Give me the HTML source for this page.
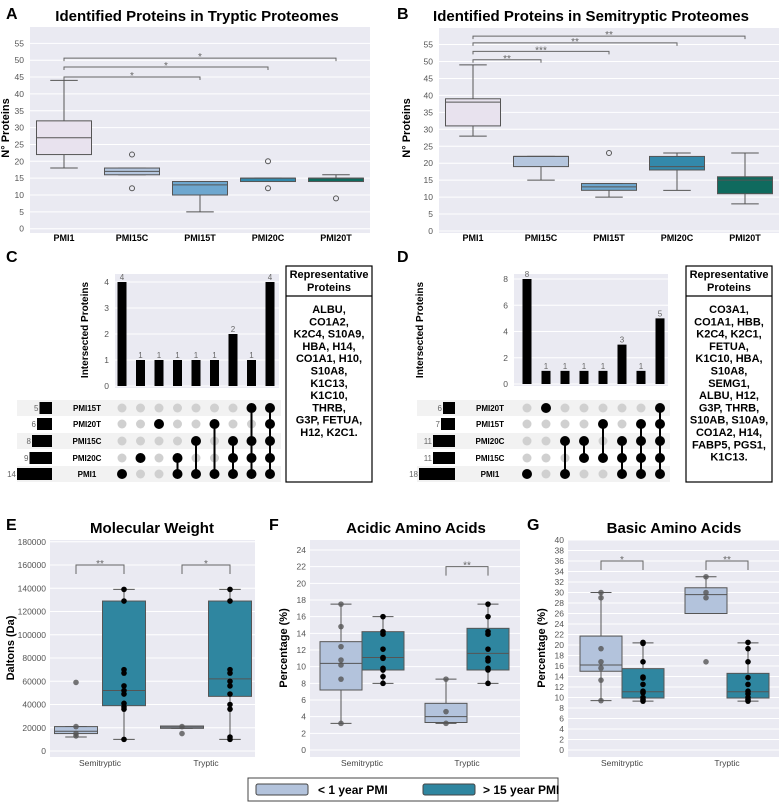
<!DOCTYPE html>
<html><head><meta charset="utf-8"><style>
body{margin:0;background:#fff}
svg{display:block;font-family:"Liberation Sans",Arial,sans-serif}
.t{font-size:8.5px;fill:#555}
</style></head><body>
<svg id="fig" width="782" height="802" viewBox="0 0 782 802" xmlns="http://www.w3.org/2000/svg"></svg>
<script>
// ---------- DATA ----------
const catsAB = ["PMI1","PMI15C","PMI15T","PMI20C","PMI20T"];
const boxesA = [[18,22,27,32,44],[16,16,17,18,18],[5,10,13,14,14],[14,14,15,15,15],[14,14,15,15,16]];
const outliersA = [[],[22,12],[],[20,12],[9]];
const boxesB = [[28,31,38,39,49],[15,19,22,22,22],[10,12,13,14,14],[12,18,19,22,23],[8,11,15,16,23]];
const outliersB = [[],[],[23],[],[]];
const colorsAB = ["#e8e2ee","#b5c6de","#6ea7cf","#3389ab","#0f6a5e"];
const bracketsA = [[2,45,"*"],[3,48,"*"],[4,50.6,"*"]];
const bracketsB = [[1,50.5,"**"],[2,53,"***"],[3,55.5,"**"],[4,57.5,"**"]];
const ticksAB = [0,5,10,15,20,25,30,35,40,45,50,55];

const rowsC = ["PMI15T","PMI20T","PMI15C","PMI20C","PMI1"];
const setSizesC = [5,6,8,9,14];
const barsC = [4,1,1,1,1,1,2,1,4];
const matC = [[4],[3],[1],[3,4],[2,4],[1,4],[2,3,4],[0,2,3,4],[0,1,2,3,4]];
const rowsD = ["PMI20T","PMI15T","PMI20C","PMI15C","PMI1"];
const setSizesD = [6,7,11,11,18];
const barsD = [8,1,1,1,1,3,1,5];
const matD = [[4],[0],[2,4],[2,3],[1,3],[2,3,4],[1,2,3,4],[0,1,2,3,4]];
const protC = ["ALBU,","CO1A2,","K2C4, S10A9,","HBA, H14,","CO1A1, H10,","S10A8,","K1C13,","K1C10,","THRB,","G3P, FETUA,","H12, K2C1."];
const protD = ["CO3A1,","CO1A1, HBB,","K2C4, K2C1,","FETUA,","K1C10, HBA,","S10A8,","SEMG1,","ALBU, H12,","G3P, THRB,","S10AB, S10A9,","CO1A2, H14,","FABP5, PGS1,","K1C13."];

const groupsEFG = ["Semitryptic","Tryptic"];
const boxE = [[12000,15000,17000,21000,21000],[10000,39000,52000,129000,139000],[19500,19500,20500,21500,21500],[10000,47000,62000,129000,139000]];
const ptsE = [[59000,21000,15000,13000],[139000,129000,70000,67000,56000,52000,49000,41000,38000,36000,10000],[21000,15000],[139000,129000,70000,67000,60000,56000,49000,40000,36000,12000,10000]];
const boxF = [[3.2,7.2,10.4,13,17.5],[8,9.6,11.1,14.2,16],[3.2,3.3,4,5.6,8.5],[8,9.6,11.6,14.6,17.5]];
const ptsF = [[17.5,14.8,12.4,10.8,10.2,8.5,3.2],[16,14.2,13.9,12.1,11.1,11,9.8,9.6,8.8,8],[8.5,4.6,3.2],[17.5,16,14.2,13.9,12.1,11,10.7,9.8,9.6,8]];
const boxG = [[9.4,15,16.2,21.7,30],[9.3,9.9,11.1,15.5,20.4],[26,26,29.6,30.9,33],[9.3,9.9,11.1,14.6,20.4]];
const ptsG = [[30,29,19.3,16.8,15.6,13.3,9.4],[20.5,20.3,16.8,13.9,13.7,12.5,11.2,10.9,10,9.6,9.3],[33,30,29,16.8],[20.5,19.3,16.8,13.8,12.5,11.2,10.7,10,9.6,9.3]];
const ticksE = [0,20000,40000,60000,80000,100000,120000,140000,160000,180000];
const ticksF = [0,2,4,6,8,10,12,14,16,18,20,22,24];
const ticksG = [0,2,4,6,8,10,12,14,16,18,20,22,24,26,28,30,32,34,36,38,40];
const sigE = ["**","*"], sigEv=[160000,160000];
const sigF = ["","**"], sigFv=[0,22];
const sigG = ["*","**"], sigGv=[36,36];

// ---------- HELPERS ----------
const NS="http://www.w3.org/2000/svg";
const svg=document.getElementById('fig');
function mk(tag,at,parent){const e=document.createElementNS(NS,tag);for(const k in at)e.setAttribute(k,at[k]);(parent||svg).appendChild(e);return e;}
function txt(s,x,y,at,parent){const e=mk('text',Object.assign({x:x,y:y},at),parent);e.textContent=s;return e;}
function grp(name){const g=mk('g',{});return g;}
const lin=(v0,p0,v1,p1)=>v=>p0+(v-v0)*(p1-p0)/(v1-v0);

function panelFrame(g,x0,y0,x1,y1,ticks,sy,labX,fmt,fs){
  mk('rect',{x:x0,y:y0,width:x1-x0,height:y1-y0,fill:'#eaeaf2'},g);
  ticks.forEach(t=>{mk('line',{x1:x0,x2:x1,y1:sy(t),y2:sy(t),stroke:'#fff','stroke-width':1},g);
    const l=txt(fmt?fmt(t):t,labX,sy(t)+3,{'text-anchor':'end',class:'t','font-size':fs||8.5},g);
    });
}
function drawBox(g,cx,w,s,sy,fill,stroke){
  mk('line',{x1:cx,x2:cx,y1:sy(s[0]),y2:sy(s[1]),stroke:stroke,'stroke-width':1},g);
  mk('line',{x1:cx,x2:cx,y1:sy(s[3]),y2:sy(s[4]),stroke:stroke,'stroke-width':1},g);
  mk('line',{x1:cx-w/4,x2:cx+w/4,y1:sy(s[0]),y2:sy(s[0]),stroke:stroke,'stroke-width':1},g);
  mk('line',{x1:cx-w/4,x2:cx+w/4,y1:sy(s[4]),y2:sy(s[4]),stroke:stroke,'stroke-width':1},g);
  const r=mk('rect',{x:cx-w/2,y:sy(s[3]),width:w,height:Math.max(1,sy(s[1])-sy(s[3])),fill:fill,stroke:stroke,'stroke-width':1},g);
  
  mk('line',{x1:cx-w/2,x2:cx+w/2,y1:sy(s[2]),y2:sy(s[2]),stroke:stroke,'stroke-width':1},g);
}
function bracket(g,xa,xb,yv,drop,lab){
  mk('path',{d:`M${xa},${yv+drop}V${yv}H${xb}V${yv+drop}`,fill:'none',stroke:'#666','stroke-width':1},g);
  txt(lab,(xa+xb)/2,yv+2,{'text-anchor':'middle','font-size':10,fill:'#666'},g);
}

// ---------- A & B ----------
function panelAB(name,letter,lx,title,tx,x0,x1,sy,boxes,outs,brs,ylabx,yTop){
  const g=grp(name);
  txt(letter,lx,19,{'font-size':16,'font-weight':'bold'},g);
  txt(title,tx,21,{'font-size':15,'font-weight':'bold','text-anchor':'middle'},g);
  panelFrame(g,x0,yTop,x1,233,ticksAB,sy,x0-6);
  const step=(x1-x0)/5;
  const cx=i=>x0+step*(i+0.5);
  boxes.forEach((s,i)=>{drawBox(g,cx(i),55,s,sy,colorsAB[i],'#555');
    outs[i].forEach(o=>{const c=mk('circle',{cx:cx(i),cy:sy(o),r:2.5,fill:'none',stroke:'#555'},g);});
    const l=txt(catsAB[i],cx(i),241,{'text-anchor':'middle','font-size':9,'font-weight':'bold'},g);
    });
  brs.forEach(b=>bracket(g,cx(0),cx(b[0]),sy(b[1]),3,b[2]));
  const yl=txt('N° Proteins',0,0,{'font-size':11,'font-weight':'bold','text-anchor':'middle',transform:`translate(${ylabx},128) rotate(-90)`},g);
  
}
panelAB('panel-a','A',6,'Identified Proteins in Tryptic Proteomes',197,30,370,lin(0,228.7,50,60.2),boxesA,outliersA,bracketsA,9,27);
panelAB('panel-b','B',397,'Identified Proteins in Semitryptic Proteomes',591,439,779,lin(0,231,50,61.5),boxesB,outliersB,bracketsB,410,28);

// ---------- C & D (upset) ----------
function panelUp(name,letter,lx,x0,x1,bx0,bstep,sy,ticks,bars,rows,sizes,mat,setUnit,setRight,rowLabX,stripeX0,ylabx,box0,box1,prot){
  const g=grp(name);
  txt(letter,lx,262,{'font-size':16,'font-weight':'bold'},g);
  panelFrame(g,x0,274,x1,sy(0)+2,ticks,sy,x0-6);
  bars.forEach((v,i)=>{const x=bx0+i*bstep;
    const r=mk('rect',{x:x-4.5,y:sy(v),width:9,height:sy(0)-sy(v),fill:'#000'},g);
    
    txt(v,x,sy(v)-2,{'text-anchor':'middle','font-size':8,fill:'#666'},g);});
  const yl=txt('Intersected Proteins',0,0,{'font-size':10,'font-weight':'bold','text-anchor':'middle',transform:`translate(${ylabx},330) rotate(-90)`},g);
  
  const ry=[408,424,441,458,474];
  rows.forEach((r,j)=>{
    if(j%2==0)mk('rect',{x:stripeX0,y:ry[j]-8,width:x1-stripeX0+2,height:16,fill:'#f2f2f2'},g);
    const sb=mk('rect',{x:setRight-sizes[j]*setUnit,y:ry[j]-6,width:sizes[j]*setUnit,height:12,fill:'#000'},g);
    
    txt(sizes[j],setRight-sizes[j]*setUnit-1,ry[j]+3,{'text-anchor':'end','font-size':8,fill:'#666'},g);
    const rl=txt(r,rowLabX,ry[j]+3,{'text-anchor':'middle','font-size':8,'font-weight':'bold'},g);
    });
  mat.forEach((m,i)=>{const x=bx0+i*bstep;
    rows.forEach((r,j)=>mk('circle',{cx:x,cy:ry[j],r:m.includes(j)?5:4.5,fill:m.includes(j)?'#000':'#d0d0d0'},g));
    if(m.length>1)mk('line',{x1:x,x2:x,y1:ry[Math.min(...m)],y2:ry[Math.max(...m)],stroke:'#000','stroke-width':2},g);});
  const tb=grp(name+'-protein-table');
  mk('rect',{x:box0,y:266,width:box1-box0,height:216,fill:'#fff',stroke:'#000','stroke-width':1.2},tb);
  mk('line',{x1:box0,x2:box1,y1:296,y2:296,stroke:'#000','stroke-width':1.2},tb);
  const cx=(box0+box1)/2;
  txt('Representative',cx,278,{'text-anchor':'middle','font-size':11,'font-weight':'bold'},tb);
  txt('Proteins',cx,291,{'text-anchor':'middle','font-size':11,'font-weight':'bold'},tb);
  prot.forEach((p,k)=>txt(p,cx,313+k*12.3,{'text-anchor':'middle','font-size':11,'font-weight':'bold'},tb));
}
panelUp('panel-c','C',6,115,279,122,18.5,lin(0,386,4,282),[0,1,2,3,4],barsC,rowsC,setSizesC,matC,2.5,52,87,17,88,286,372,protC);
panelUp('panel-d','D',397,514,668,527,19,lin(0,384,8,279),[0,2,4,6,8],barsD,rowsD,setSizesD,matD,2,455,490,417,423,686,772,protD);

// ---------- E F G ----------
function panelBox(name,letter,lx,title,tx,x0,x1,sy,ticks,boxes,pts,gcent,off,bw,sig,sigv,ylab,ylabx,fs){
  const g=grp(name);
  txt(letter,lx,530,{'font-size':16,'font-weight':'bold'},g);
  txt(title,tx,533,{'font-size':15,'font-weight':'bold','text-anchor':'middle'},g);
  panelFrame(g,x0,540,x1,757,ticks,sy,x0-4,null,fs);
  const cols=['#b3c3dc','#2f86a0'];
  boxes.forEach((s,k)=>{const gi=Math.floor(k/2),h=k%2;const cx=gcent[gi]+(h?off:-off);
    drawBox(g,cx,bw,s,sy,cols[h],'#555');
    pts[k].forEach(p=>{const c=mk('circle',{cx:cx,cy:sy(p),r:2.8,fill:h?'#000':'#555','fill-opacity':h?1:0.8},g);
      });});
  groupsEFG.forEach((n,gi)=>{const l=txt(n,gcent[gi],766,{'text-anchor':'middle','font-size':8.5,fill:'#444'},g);
    
    if(sig[gi])bracket(g,gcent[gi]-off,gcent[gi]+off,sy(sigv[gi]),9,sig[gi]);});
  const yl=txt(ylab,0,0,{'font-size':11,'font-weight':'bold','text-anchor':'middle',transform:`translate(${ylabx},648) rotate(-90)`},g);
  
}
panelBox('panel-e','E',6,'Molecular Weight',152,50,255,lin(0,751,160000,565),ticksE,boxE,ptsE,[100,206],24,43,sigE,sigEv,'Daltons (Da)',14,8);
panelBox('panel-f','F',269,'Acidic Amino Acids',416,310,520,lin(0,750,24,550),ticksF,boxF,ptsF,[362,467],21,42,sigF,sigFv,'Percentage (%)',287,8);
panelBox('panel-g','G',527,'Basic Amino Acids',674,568,779,lin(0,750,40,540),ticksG,boxG,ptsG,[622,727],21,42,sigG,sigGv,'Percentage (%)',545,7.5);

// ---------- legend ----------
const lg=grp('legend');
mk('rect',{x:248,y:778,width:310,height:23,fill:'#fff',stroke:'#444','stroke-width':1},lg);
const s1=mk('rect',{x:256,y:784,width:52,height:11,rx:2,fill:'#b3c3dc',stroke:'#444'},lg);

txt('< 1 year PMI',318,794,{'font-size':12,'font-weight':'bold'},lg);
const s2=mk('rect',{x:423,y:784,width:52,height:11,rx:2,fill:'#2f86a0',stroke:'#444'},lg);

txt('> 15 year PMI',483,794,{'font-size':12,'font-weight':'bold'},lg);
</script>
</body></html>
